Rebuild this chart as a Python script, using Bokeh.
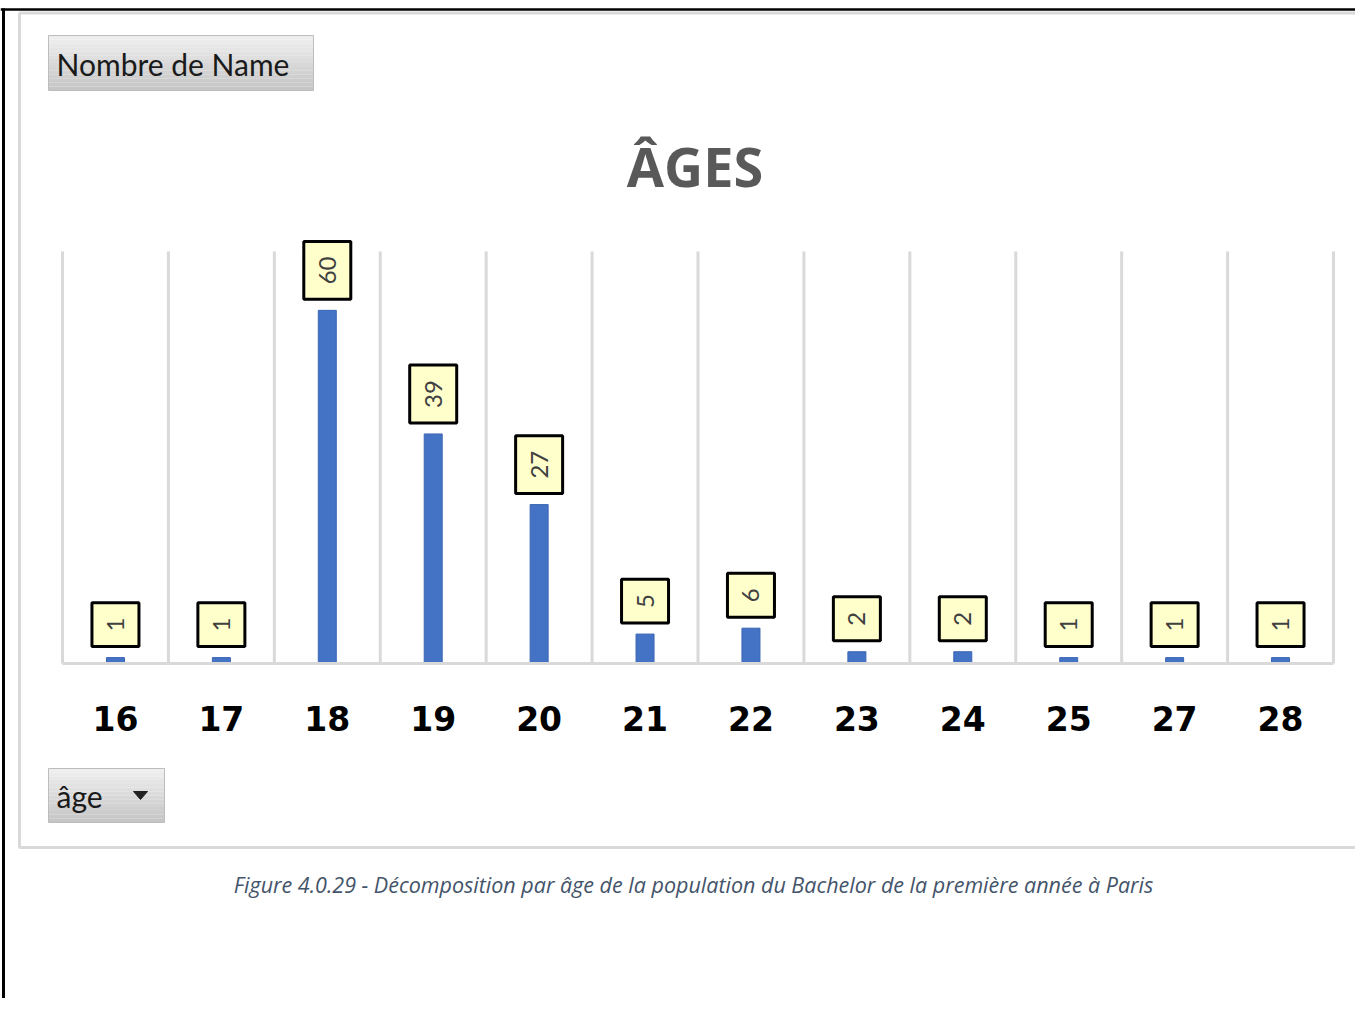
import math
from bokeh.plotting import figure
from bokeh.models import Range1d, FixedTicker
from bokeh.core.properties import value
from bokeh.embed import file_html
from bokeh.resources import INLINE

# ---------------- data ----------------
ages = ["16", "17", "18", "19", "20", "21", "22", "23", "24", "25", "27", "28"]
counts = [1, 1, 60, 39, 27, 5, 6, 2, 2, 1, 1, 1]
y_max = 70
title_text = "ÂGES"
field_button = "Nombre de Name"
axis_button = "âge"
caption = ("Figure 4.0.29 - Décomposition par âge de la population du Bachelor "
           "de la première année à Paris")

# ---------------- geometry (canvas pixels) ----------------
W, H = 1355, 998
plot_left, plot_right = 62, 1333
base_px, top_px = 663, 251
n = len(ages)
sx = (plot_right - plot_left) / n
sy = (base_px - top_px) / y_max
x_start = -0.5 - plot_left / sx
x_end = x_start + W / sx
y_end = y_max + top_px / sy
y_start = y_end - H / sy


def dx(px):
    return x_start + px / sx


def dy(py):
    return y_end - py / sy


xs = list(range(n))

p = figure(width=W, height=H, x_range=Range1d(x_start, x_end),
           y_range=Range1d(y_start, y_end), output_backend="svg",
           toolbar_location=None, y_axis_location=None, min_border=0,
           outline_line_color=None, background_fill_color="white",
           border_fill_color="white")
p.xgrid.visible = False
p.ygrid.visible = False

# ---------------- outer frames ----------------
p.segment(x0=[dx(0)], y0=[dy(9)], x1=[dx(W)], y1=[dy(9)], line_color="black", line_width=2.5)
p.segment(x0=[dx(3)], y0=[dy(8)], x1=[dx(3)], y1=[dy(H)], line_color="black", line_width=3)
p.multi_line(xs=[[dx(W + 5), dx(19), dx(19), dx(W + 5)]],
             ys=[[dy(12.5), dy(12.5), dy(847), dy(847)]],
             line_color="#D9D9D9", line_width=3)

# ---------------- buttons ----------------
def button(l, t, r, b):
    steps = 14
    h = (b - t) / steps
    tops, bots, cols = [], [], []
    for k in range(steps):
        f = k / (steps - 1)
        c = int(round(0xEE - f * (0xEE - 0xC6)))
        tops.append(dy(t + k * h))
        bots.append(dy(t + (k + 1) * h))
        cols.append("#%02x%02x%02x" % (c, c, c))
    p.quad(left=[dx(l)] * steps, right=[dx(r)] * steps, top=tops, bottom=bots,
           fill_color=cols, line_color=None)
    p.quad(left=[dx(l)], right=[dx(r)], top=[dy(t)], bottom=[dy(b)],
           fill_color=None, line_color="#BDBDBD", line_width=1)


button(48, 35, 313, 90)
p.text(x=[dx(56)], y=[dy(63)], text=[field_button], text_font=value("Lato"),
       text_font_size="30px", text_baseline="middle", text_color="#1A1A1A")

button(48, 768, 164, 822)
p.text(x=[dx(56)], y=[dy(795)], text=[axis_button], text_font=value("Lato"),
       text_font_size="30px", text_baseline="middle", text_color="#1A1A1A")
p.patch(x=[dx(133), dx(147), dx(140)], y=[dy(791), dy(791), dy(799)],
        fill_color="#222222", line_color="#222222")

# ---------------- title ----------------
p.text(x=[(n - 1) / 2], y=[dy(165)], text=[title_text], text_align="center",
       text_baseline="middle", text_font=value("Open Sans"),
       text_font_style="bold", text_font_size="54px", text_color="#595959",
       x_offset=-3)

# ---------------- gridlines ----------------
bounds = [i - 0.5 for i in range(n + 1)]
p.segment(x0=bounds, y0=[0] * len(bounds), x1=bounds, y1=[y_max] * len(bounds),
          line_color="#D9D9D9", line_width=3)

# ---------------- bars ----------------
p.vbar(x=xs, top=counts, bottom=0, width=18 / sx, fill_color="#4472C4",
       line_color="#3B66B5", line_width=1)

# ---------------- data labels ----------------
p.text(x=xs, y=counts, text=[str(c) for c in counts], angle=math.pi / 2,
       text_align="left", text_baseline="middle", text_font=value("Lato"),
       text_font_size="24px", text_color="#404040",
       background_fill_color="#FFFFCC", border_line_color="black",
       border_line_width=3, padding=15, y_offset=-11)

# ---------------- x axis ----------------
ax = p.xaxis[0]
ax.fixed_location = 0
ax.ticker = FixedTicker(ticks=xs)
ax.major_label_overrides = {i: a for i, a in enumerate(ages)}
ax.bounds = (-0.5, n - 0.5)
ax.axis_line_color = "#D9D9D9"
ax.axis_line_width = 3
ax.major_tick_line_color = None
ax.minor_tick_line_color = None
ax.major_label_text_font = "DejaVu Sans"
ax.major_label_text_font_style = "bold"
ax.major_label_text_font_size = "33px"
ax.major_label_text_color = "black"
ax.major_label_standoff = 36

# ---------------- caption ----------------
p.text(x=[dx(693)], y=[dy(884)], text=[caption], text_align="center",
       text_baseline="middle", text_font=value("Open Sans"), text_font_style="italic",
       text_font_size="21.5px", text_color="#44546A")

open("out.html", "w").write(file_html(p, INLINE))
